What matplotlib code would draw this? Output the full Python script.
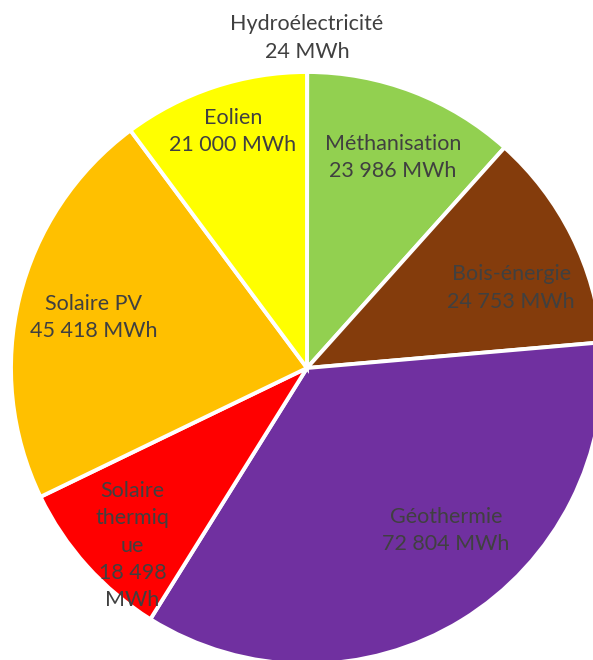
import numpy as np
import matplotlib.pyplot as plt

plt.rcParams['font.family'] = ['Lato', 'DejaVu Sans']

# data
labels = ['Hydroélectricité', 'Méthanisation', 'Bois-énergie', 'Géothermie',
          'Solaire\nthermiq\nue', 'Solaire PV', 'Eolien']
values = [24, 23986, 24753, 72804, 18498, 45418, 21000]
value_text = ['24 MWh', '23 986 MWh', '24 753 MWh', '72 804 MWh',
              '18 498\nMWh', '45 418 MWh', '21 000 MWh']
colors = ['#4472C4', '#92D050', '#843C0C', '#7030A0', '#FF0000', '#FFC000', '#FFFF00']

# label spots, in units of the radius from the centre
label_pos = [(0.0, 1.115), (0.29, 0.71), (0.69, 0.27), (0.47, -0.55),
             (-0.59, -0.60), (-0.72, 0.17), (-0.25, 0.80)]

W, H = 593, 660
cx, cy, r = 307, 368, 296

fig = plt.figure(figsize=(W / 100, H / 100), dpi=100)
ax = fig.add_axes([0, 0, 1, 1])
ax.pie(values, colors=colors, startangle=90, counterclock=False, radius=1,
       wedgeprops=dict(edgecolor='white', linewidth=2.8))
ax.set_xlim(-cx / r, (W - cx) / r)
ax.set_ylim(-(H - cy) / r, cy / r)
ax.set_aspect('auto')
ax.axis('off')

for lab, val, (x, y) in zip(labels, value_text, label_pos):
    ax.text(x, y, lab + '\n' + val, ha='center', va='center', fontsize=15.5,
            color='#404040', linespacing=1.45)

fig.savefig('out.png', dpi=100)
